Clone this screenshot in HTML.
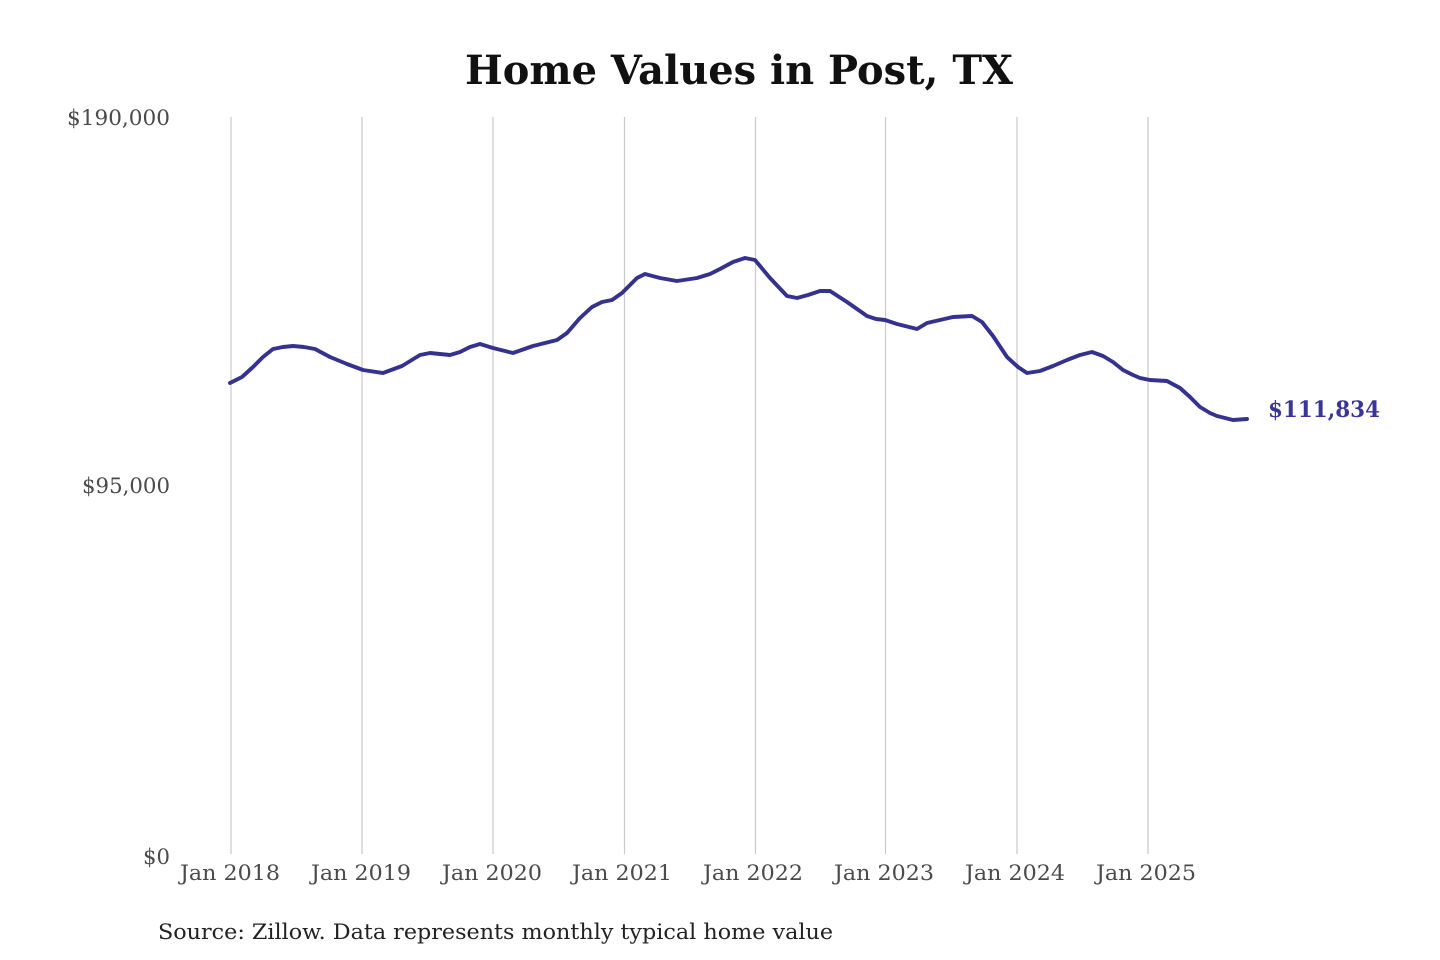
<!DOCTYPE html>
<html>
<head>
<meta charset="utf-8">
<style>
  html,body{margin:0;padding:0;background:#ffffff;}
  body{width:1440px;height:960px;overflow:hidden;}
  svg{display:block;}
  text{font-family:"DejaVu Serif","Liberation Serif",serif;}
</style>
</head>
<body>
<svg width="1440" height="960" viewBox="0 0 1440 960" xmlns="http://www.w3.org/2000/svg">
  <rect x="0" y="0" width="1440" height="960" fill="#ffffff"/>
  <!-- Title -->
  <text x="739" y="84" text-anchor="middle" font-size="40" font-weight="bold" fill="#111111" textLength="548" lengthAdjust="spacingAndGlyphs">Home Values in Post, TX</text>

  <!-- gridlines -->
  <g stroke="#c9c9c9" stroke-width="1.2">
    <line x1="231" y1="117" x2="231" y2="854"/>
    <line x1="362" y1="117" x2="362" y2="854"/>
    <line x1="493" y1="117" x2="493" y2="854"/>
    <line x1="624.5" y1="117" x2="624.5" y2="854"/>
    <line x1="755.5" y1="117" x2="755.5" y2="854"/>
    <line x1="885.5" y1="117" x2="885.5" y2="854"/>
    <line x1="1017" y1="117" x2="1017" y2="854"/>
    <line x1="1148" y1="117" x2="1148" y2="854"/>
  </g>

  <!-- y labels -->
  <g font-size="21" fill="#4a4a4a" text-anchor="end">
    <text x="170" y="125" textLength="103" lengthAdjust="spacingAndGlyphs">$190,000</text>
    <text x="170" y="493" textLength="88" lengthAdjust="spacingAndGlyphs">$95,000</text>
    <text x="170" y="864" textLength="27" lengthAdjust="spacingAndGlyphs">$0</text>
  </g>

  <!-- x labels -->
  <g font-size="21.5" fill="#4a4a4a" text-anchor="middle">
    <text x="230" y="880" textLength="100" lengthAdjust="spacingAndGlyphs">Jan 2018</text>
    <text x="361" y="880" textLength="100" lengthAdjust="spacingAndGlyphs">Jan 2019</text>
    <text x="492" y="880" textLength="100" lengthAdjust="spacingAndGlyphs">Jan 2020</text>
    <text x="622" y="880" textLength="100" lengthAdjust="spacingAndGlyphs">Jan 2021</text>
    <text x="753" y="880" textLength="100" lengthAdjust="spacingAndGlyphs">Jan 2022</text>
    <text x="884" y="880" textLength="100" lengthAdjust="spacingAndGlyphs">Jan 2023</text>
    <text x="1015" y="880" textLength="100" lengthAdjust="spacingAndGlyphs">Jan 2024</text>
    <text x="1146" y="880" textLength="100" lengthAdjust="spacingAndGlyphs">Jan 2025</text>
  </g>

  <!-- series -->
  <polyline fill="none" stroke="#35318f" stroke-width="3.9" stroke-linejoin="round" stroke-linecap="round"
    points="230,383 242,377 253,367 263,357 273,349 283,347 293,346 304,347 315,349 330,357 347,364 363,370 383,373 402,366 420,355 430,353 450,355 460,352 470,347 480,344 493,348 513,353 533,346 545,343 557,340 567,333 580,318 592,307 602,302 612,300 622,293 630,285 637,278 645,274 660,278 677,281 697,278 710,274 720,269 733,262 745,258 755,260 770,278 787,296 797,298 808,295 820,291 830,291 847,302 867,316 876,319 885,320 897,324 917,329 927,323 940,320 953,317 972,316 982,322 993,336 1007,357 1018,367 1027,373 1040,371 1053,366 1067,360 1080,355 1092,352 1103,356 1113,362 1123,370 1133,375 1140,378 1150,380 1167,381 1180,388 1190,397 1200,407 1210,413 1217,416 1233,420 1247,419"/>

  <!-- end label -->
  <text x="1268" y="417" font-size="22" font-weight="bold" fill="#3a3596" textLength="112" lengthAdjust="spacingAndGlyphs">$111,834</text>

  <!-- source -->
  <text x="158" y="939" font-size="21.5" fill="#222222" textLength="675" lengthAdjust="spacingAndGlyphs">Source: Zillow. Data represents monthly typical home value</text>
</svg>
</body>
</html>
